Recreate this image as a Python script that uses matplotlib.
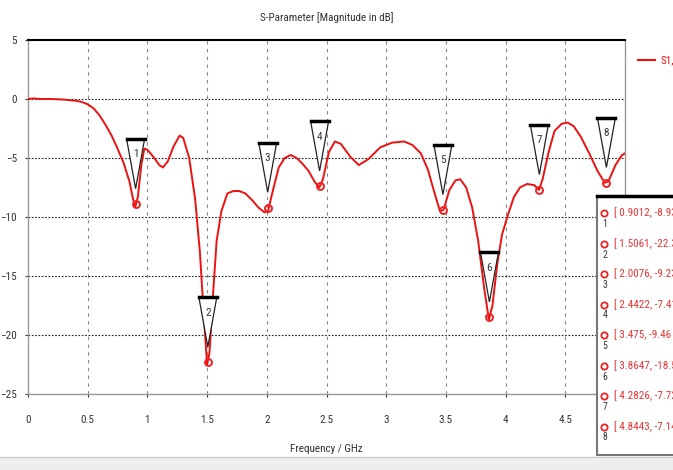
import matplotlib
matplotlib.use("Agg")
import matplotlib.pyplot as plt
from matplotlib import font_manager
from matplotlib.patches import Polygon, Rectangle
from matplotlib.lines import Line2D

# S11 curve
freq = [0.00, 0.05, 0.10, 0.20, 0.30, 0.40, 0.45, 0.50, 0.55, 0.60, 0.65, 0.70,
        0.75, 0.80, 0.85, 0.88, 0.90, 0.92, 0.95, 0.975, 1.00, 1.05, 1.10, 1.13,
        1.17, 1.22, 1.27, 1.30, 1.35, 1.40, 1.44, 1.47, 1.50, 1.52, 1.55, 1.58,
        1.62, 1.67, 1.72, 1.77, 1.82, 1.88, 1.93, 1.98, 2.01, 2.05, 2.10, 2.15,
        2.20, 2.25, 2.30, 2.35, 2.40, 2.44, 2.47, 2.52, 2.57, 2.62, 2.70, 2.77,
        2.85, 2.95, 3.05, 3.15, 3.22, 3.29, 3.35, 3.40, 3.45, 3.48, 3.53, 3.58,
        3.62, 3.67, 3.72, 3.77, 3.82, 3.86, 3.89, 3.93, 3.97, 4.02, 4.07, 4.12,
        4.18, 4.24, 4.28, 4.31, 4.36, 4.41, 4.47, 4.52, 4.57, 4.63, 4.70, 4.77,
        4.83, 4.86, 4.92, 4.975, 5.00]
s11 = [0.0, 0.05, 0.0, 0.0, -0.05, -0.15, -0.25, -0.45, -0.8, -1.4, -2.2, -3.1,
       -4.2, -5.4, -7.0, -8.5, -9.1, -8.3, -5.5, -4.2, -4.3, -4.9, -5.6, -5.8,
       -5.3, -4.0, -3.1, -3.3, -5.0, -8.5, -13.0, -18.0, -22.5, -21.5, -16.5, -12.0,
       -9.5, -8.0, -7.8, -7.8, -8.0, -8.6, -9.2, -9.6, -9.5, -7.8, -5.8, -5.0,
       -4.75, -5.0, -5.5, -6.1, -7.0, -7.5, -6.8, -4.5, -3.6, -3.8, -4.9, -5.6,
       -5.1, -4.1, -3.7, -3.6, -3.9, -4.6, -6.0, -7.8, -9.5, -9.4, -7.7, -6.9,
       -6.8, -7.5, -9.2, -12.0, -16.0, -18.7, -17.5, -14.0, -11.5, -9.8, -8.3, -7.5,
       -7.2, -7.3, -7.7, -6.8, -4.5, -2.7, -2.1, -2.0, -2.3, -3.2, -4.6, -6.1,
       -7.1, -7.0, -5.6, -4.75, -4.6]

# markers
mk_id = ["1", "2", "3", "4", "5", "6", "7", "8"]
mk_f = [0.9012, 1.5061, 2.0076, 2.4422, 3.475, 3.8647, 4.2826, 4.8443]
mk_db = [-8.9, -22.3, -9.2, -7.4, -9.4, -18.5, -7.7, -7.1]
mk_text = ["[ 0.9012, -8.93 ]", "[ 1.5061, -22.3 ]", "[ 2.0076, -9.23 ]",
           "[ 2.4422, -7.41 ]", "[ 3.475, -9.46 ]", "[ 3.8647, -18.5 ]",
           "[ 4.2826, -7.72 ]", "[ 4.8443, -7.14 ]"]

xticks = [0, 0.5, 1, 1.5, 2, 2.5, 3, 3.5, 4, 4.5]
xlabels = ["0", "0.5", "1", "1.5", "2", "2.5", "3", "3.5", "4", "4.5"]
yticks = [5, 0, -5, -10, -15, -20, -25]

# a narrow font if there is one
have = set(f.name for f in font_manager.fontManager.ttflist)
narrow = 'DejaVu Sans'
for cand in ['Liberation Sans Narrow', 'Roboto Condensed', 'Open Sans Condensed',
             'DejaVu Sans Condensed', 'Arimo', 'Liberation Sans']:
    if cand in have:
        narrow = cand
        break
plt.rcParams['font.family'] = [narrow, 'DejaVu Sans']

fig = plt.figure(figsize=(6.73, 4.70), dpi=100)
ax = fig.add_axes([28/673, 76/470, 597/673, 354/470])

ax.plot(freq, s11, color='#ee1111', linewidth=1.4, zorder=3)

ax.set_xlim(0, 5)
ax.set_ylim(-25, 5)
ax.set_xticks(xticks)
ax.set_xticklabels(xlabels)
ax.set_yticks(yticks)
ax.tick_params(labelsize=8, length=2, colors='#333333')
ax.tick_params(axis='x', pad=13)
ax.tick_params(axis='y', pad=6)

for x in xticks[1:]:
    ax.axvline(x, color='#888888', linestyle=(0, (3, 4)), linewidth=0.8, zorder=1)
for y in yticks[1:]:
    ax.axhline(y, color='#222222', linestyle=(0, (1.5, 1.5)), linewidth=0.8, zorder=1)

for side in ['left', 'right', 'bottom']:
    ax.spines[side].set_color('#999999')
    ax.spines[side].set_linewidth(1.0)
ax.spines['top'].set_color('black')
ax.spines['top'].set_linewidth(1.5)

# triangle markers with labels
hw = 0.075
for name, f, d in zip(mk_id, mk_f, mk_db):
    tip = d + 1.3
    top = d + 5.5
    tri = Polygon([(f - hw, top), (f + hw, top), (f, tip)], closed=True,
                  facecolor='white', edgecolor='#222222', linewidth=0.9, zorder=5)
    ax.add_patch(tri)
    ax.plot([f - hw, f + hw], [top, top], color='black', linewidth=2.5, zorder=6)
    ax.text(f, top - 1.3, name, ha='center', va='center', fontsize=8,
            color='#333333', zorder=7)
    ax.plot(f, d, marker='o', markersize=5, markerfacecolor='none',
            markeredgecolor='#ee2222', markeredgewidth=1.4, zorder=7)

ax.set_title("S-Parameter [Magnitude in dB]", fontsize=8, color='#333333', pad=14)
ax.set_xlabel("Frequency / GHz", fontsize=8, color='#333333', labelpad=14)

# legend (cut by the figure edge)
fig.add_artist(Line2D([638/673, 655/673], [410/470, 410/470], color='#ee1111',
                      linewidth=1.5, transform=fig.transFigure))
fig.text(661/673, 410/470, "S1,1", color='#ee1111', fontsize=8, va='center')

# marker table
tbl = Rectangle((597/673, 15/470), 0.2, 259/470, transform=fig.transFigure,
                facecolor='white', edgecolor='#777777', linewidth=1.5, zorder=10)
fig.add_artist(tbl)
fig.add_artist(Line2D([597/673, 1.0], [274/470, 274/470], color='black',
                      linewidth=2.5, transform=fig.transFigure, zorder=11))
for i, (name, txt) in enumerate(zip(mk_id, mk_text)):
    yp = (470 - 213 - i * 30.5) / 470
    fig.add_artist(Line2D([604/673], [yp], marker='o', markersize=4.5,
                          markerfacecolor='none', markeredgecolor='#ee2222',
                          markeredgewidth=1.3, transform=fig.transFigure, zorder=12))
    fig.text(605/673, yp - 11/470, name, fontsize=7, color='#333333',
             ha='center', va='center', zorder=12)
    fig.text(614/673, yp, txt, fontsize=8, color='#ee3333', va='center', zorder=12)

# window bar at the bottom
fig.add_artist(Rectangle((0, 0), 1, 12/470, transform=fig.transFigure,
                         facecolor='#eeeeee', edgecolor='none', zorder=9))
fig.add_artist(Line2D([0, 1], [13/470, 13/470], color='#cccccc', linewidth=1.0,
                      transform=fig.transFigure, zorder=9))

fig.savefig("out.png", dpi=100)
